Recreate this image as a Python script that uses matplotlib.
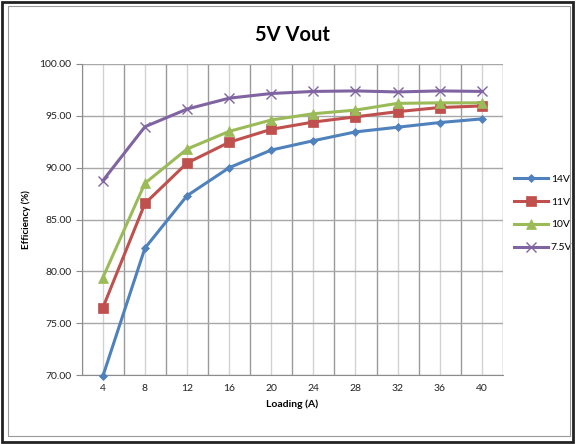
import numpy as np
import matplotlib
matplotlib.use("Agg")
import matplotlib.pyplot as plt
from matplotlib.patches import Rectangle

plt.rcParams['font.family'] = ['Lato', 'DejaVu Sans']

loading = ["4", "8", "12", "16", "20", "24", "28", "32", "36", "40"]
eff_14v = [69.9, 82.25, 87.3, 90.0, 91.7, 92.6, 93.45, 93.9, 94.35, 94.7]
eff_11v = [76.5, 86.55, 90.45, 92.45, 93.7, 94.4, 94.9, 95.4, 95.8, 95.95]
eff_10v = [79.4, 88.5, 91.8, 93.5, 94.6, 95.2, 95.55, 96.2, 96.25, 96.25]
eff_75v = [88.75, 93.95, 95.65, 96.7, 97.15, 97.35, 97.4, 97.3, 97.4, 97.35]

series = [
    ("14V", eff_14v, "#4F81BD", "D", 4.5),
    ("11V", eff_11v, "#C0504D", "s", 6.5),
    ("10V", eff_10v, "#9BBB59", "^", 6.5),
    ("7.5V", eff_75v, "#8064A2", "x", 6.5),
]

fig = plt.figure(figsize=(5.76, 4.44), dpi=100)
# outer chart frame
fig.patches.append(Rectangle((0.004, 0.005), 0.99, 0.99, transform=fig.transFigure,
                             fill=False, edgecolor="#222222", linewidth=2))
fig.patches.append(Rectangle((0.014, 0.018), 0.975, 0.968, transform=fig.transFigure,
                             fill=False, edgecolor="#9a9a9a", linewidth=0.8))

ax = fig.add_axes([0.142, 0.155, 0.731, 0.701])
x = np.arange(len(loading))
for name, vals, color, marker, ms in series:
    ax.plot(x, vals, color=color, linewidth=2.2, marker=marker, markersize=ms,
            markeredgecolor=color, markeredgewidth=1.0 if marker == "x" else 0.5,
            label=name, zorder=3, clip_on=False)

ax.set_xlim(-0.5, len(loading) - 0.5)
ax.set_ylim(70, 100)
ax.set_yticks(np.arange(70, 100.1, 5))
ax.set_yticklabels([f"{v:.2f}" for v in np.arange(70, 100.1, 5)])
ax.set_xticks(x)
ax.set_xticklabels(loading)
ax.set_xticks(np.arange(-0.5, len(loading), 1.0), minor=True)

ax.grid(True, which="major", axis="y", color="#a8a8a8", linewidth=1.0, zorder=0)
ax.grid(True, which="major", axis="x", color="#d2d2d2", linewidth=1.0, zorder=0)
ax.grid(True, which="minor", axis="x", color="#9a9a9a", linewidth=1.0, zorder=0)
ax.set_axisbelow(True)

ax.tick_params(axis="both", which="both", labelsize=7.5, colors="#222222")
ax.tick_params(axis="x", which="major", length=0, pad=6)
ax.tick_params(axis="x", which="minor", length=0)
ax.tick_params(axis="y", length=4, color="#8c8c8c")
for side in ["top", "right"]:
    ax.spines[side].set_visible(False)
for side in ["left", "bottom"]:
    ax.spines[side].set_color("#8c8c8c")

ax.set_xlabel("Loading (A)", fontsize=7.5, fontweight="bold", labelpad=5)
ax.set_ylabel("Efficiency (%)", fontsize=7, fontweight="bold", labelpad=6)
fig.text(0.508, 0.922, "5V Vout", ha="center", va="center", fontsize=14.5, fontweight="bold")

ax.legend(loc="center left", bbox_to_anchor=(1.005, 0.52), frameon=False, fontsize=7.5,
          handlelength=3.2, handletextpad=0.3, labelspacing=1.3)

fig.savefig("out.png", dpi=100)
